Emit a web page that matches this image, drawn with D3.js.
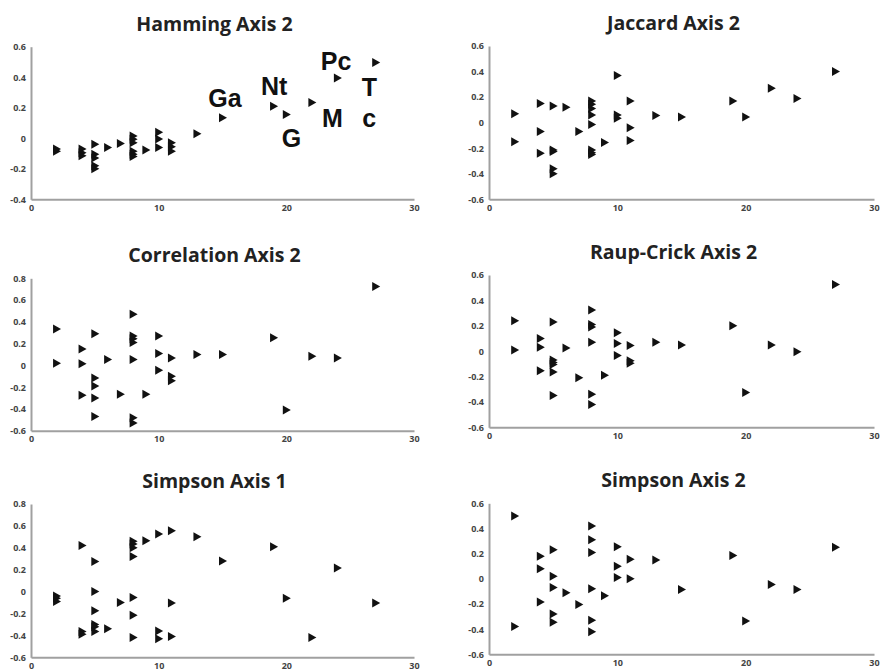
<!DOCTYPE html>
<html>
<head>
<meta charset="utf-8">
<script src="https://cdn.jsdelivr.net/npm/d3@7"></script>
<style>
  body { margin: 0; background: #fff; }
  svg { display: block; }
</style>
</head>
<body>
<div id="graph"></div>
<script>
// point data, [x, y] pairs
var hamming = [[2,-0.07],[2,-0.085],[4,-0.07],[4,-0.095],[4,-0.115],
  [5,-0.04],[5,-0.105],[5,-0.13],[5,-0.18],[5,-0.2],[6,-0.06],[7,-0.035],
  [8,0.015],[8,-0.007],[8,-0.03],[8,-0.085],[8,-0.105],[8,-0.12],[9,-0.077],
  [10,0.04],[10,-0.005],[10,-0.06],[11,-0.03],[11,-0.055],[11,-0.085],
  [13,0.03],[15,0.135],[19,0.21],[20,0.155],[22,0.235],[24,0.395],[27,0.497]];

var jaccard = [[2,0.07],[2,-0.15],[4,0.15],[4,-0.07],[4,-0.24],
  [5,0.13],[5,-0.215],[5,-0.225],[5,-0.36],[5,-0.4],[6,0.12],[7,-0.07],
  [8,0.17],[8,0.145],[8,0.11],[8,0.06],[8,-0.015],[8,-0.215],[8,-0.235],[8,-0.25],
  [9,-0.155],[10,0.37],[10,0.06],[10,0.035],[11,0.17],[11,-0.04],[11,-0.14],
  [13,0.055],[15,0.045],[19,0.17],[20,0.045],[22,0.27],[24,0.19],[27,0.4]];

var correlation = [[2,0.335],[2,0.02],[4,0.15],[4,0.015],[4,-0.275],
  [5,0.29],[5,-0.115],[5,-0.19],[5,-0.3],[5,-0.47],[6,0.055],[7,-0.265],
  [8,0.47],[8,0.27],[8,0.245],[8,0.21],[8,0.055],[8,-0.48],[8,-0.53],[9,-0.265],
  [10,0.27],[10,0.11],[10,-0.045],[11,0.067],[11,-0.1],[11,-0.14],
  [13,0.1],[15,0.1],[19,0.255],[20,-0.41],[22,0.085],[24,0.067],[27,0.725]];

var raupCrick = [[2,0.24],[2,0.01],[4,0.1],[4,0.03],[4,-0.155],
  [5,0.23],[5,-0.07],[5,-0.09],[5,-0.105],[5,-0.165],[5,-0.35],[6,0.025],[7,-0.21],
  [8,0.325],[8,0.21],[8,0.19],[8,0.07],[8,-0.34],[8,-0.42],[9,-0.19],
  [10,0.145],[10,0.06],[10,-0.035],[11,0.045],[11,-0.075],[11,-0.095],
  [13,0.07],[15,0.048],[19,0.2],[20,-0.325],[22,0.048],[24,-0.005],[27,0.525]];

var simpson1 = [[2,-0.04],[2,-0.06],[2,-0.09],[4,0.42],[4,-0.365],[4,-0.39],
  [5,0.275],[5,0],[5,-0.175],[5,-0.3],[5,-0.32],[5,-0.365],[6,-0.34],[7,-0.1],
  [8,0.46],[8,0.435],[8,0.4],[8,0.32],[8,-0.055],[8,-0.215],[8,-0.42],[9,0.465],
  [10,0.525],[10,-0.36],[10,-0.43],[11,0.555],[11,-0.105],[11,-0.41],
  [13,0.5],[15,0.28],[19,0.41],[20,-0.06],[22,-0.42],[24,0.215],[27,-0.105]];

var simpson2 = [[2,0.5],[2,-0.38],[4,0.18],[4,0.08],[4,-0.185],
  [5,0.23],[5,0.02],[5,-0.07],[5,-0.28],[5,-0.345],[6,-0.11],[7,-0.205],
  [8,0.42],[8,0.31],[8,0.21],[8,-0.08],[8,-0.33],[8,-0.42],[9,-0.135],
  [10,0.255],[10,0.1],[10,0.01],[11,0.155],[11,0],
  [13,0.15],[15,-0.085],[19,0.185],[20,-0.335],[22,-0.045],[24,-0.085],[27,0.25]];

// genus labels on the Hamming panel, in data units
var hammingLabels = [["Ga",15.2,0.205],["Nt",19.05,0.283],["Pc",23.9,0.447],
  ["T",26.5,0.277],["M",23.6,0.074],["c",26.5,0.074],["G",20.4,-0.057]];

var xTicks = [0, 10, 20, 30];

var W = 880, H = 672;
var svg = d3.select("#graph").append("svg").attr("width", W).attr("height", H);

// panel boxes in pixels: left/right columns, three rows
var cols = [[31, 414], [489, 874]];
var panels = [
  {title: "Hamming Axis 2",     data: hamming,     col: 0, top: 46.7,  bottom: 199.3, dom: [-0.4, 0.6], labels: hammingLabels},
  {title: "Jaccard Axis 2",     data: jaccard,     col: 1, top: 46,    bottom: 199.3, dom: [-0.6, 0.6]},
  {title: "Correlation Axis 2", data: correlation, col: 0, top: 278.3, bottom: 430.7, dom: [-0.6, 0.8]},
  {title: "Raup-Crick Axis 2",  data: raupCrick,   col: 1, top: 275,   bottom: 427.3, dom: [-0.6, 0.6]},
  {title: "Simpson Axis 1",     data: simpson1,    col: 0, top: 504,   bottom: 657.3, dom: [-0.6, 0.8]},
  {title: "Simpson Axis 2",     data: simpson2,    col: 1, top: 503.3, bottom: 654.3, dom: [-0.6, 0.6]}
];

var tri = "M-3.5,-4.5L4.5,0L-3.5,4.5Z";

panels.forEach(function(p) {
  var x0 = cols[p.col][0], x1 = cols[p.col][1];
  var x = d3.scaleLinear().domain([0, 30]).range([x0, x1]);
  var y = d3.scaleLinear().domain(p.dom).range([p.bottom, p.top]);
  var g = svg.append("g");

  g.append("text")
    .attr("x", (x0 + x1) / 2 - 8)
    .attr("y", p.top - 16)
    .attr("text-anchor", "middle")
    .style("font-family", "'Open Sans', sans-serif")
    .style("font-weight", "bold")
    .style("font-size", "19.5px")
    .style("fill", "#222")
    .text(p.title);

  var yAxis = g.append("g").attr("transform", "translate(" + x0 + ",0)")
    .call(d3.axisLeft(y).tickValues(d3.range(p.dom[0], p.dom[1] + 0.01, 0.2))
      .tickSize(0).tickPadding(5)
      .tickFormat(function(d) { var v = Math.round(d * 10) / 10; return v === 0 ? "0" : d3.format(".1f")(v).replace("−", "-"); }));
  var xAxis = g.append("g").attr("transform", "translate(0," + p.bottom + ")")
    .call(d3.axisBottom(x).tickValues(xTicks).tickSize(0).tickPadding(5));

  [yAxis, xAxis].forEach(function(a) {
    a.select(".domain").attr("stroke", "#a0a0a0").attr("stroke-width", 2);
    a.selectAll("text")
      .style("font-family", "'Open Sans', sans-serif")
      .style("font-weight", "bold")
      .style("font-size", "9px")
      .style("fill", "#444");
  });

  g.selectAll("path.pt")
    .data(p.data)
    .enter()
    .append("path")
    .attr("class", "pt")
    .attr("d", tri)
    .attr("transform", function(d) { return "translate(" + x(d[0]) + "," + y(d[1]) + ")"; })
    .attr("fill", "#111");

  if (p.labels) {
    g.selectAll("text.lab")
      .data(p.labels)
      .enter()
      .append("text")
      .attr("class", "lab")
      .attr("x", function(d) { return x(d[1]); })
      .attr("y", function(d) { return y(d[2]); })
      .attr("text-anchor", "middle")
      .style("font-family", "'Liberation Sans', Arial, sans-serif")
      .style("font-weight", "bold")
      .style("font-size", "25px")
      .style("fill", "#111")
      .text(function(d) { return d[0]; });
  }
});
</script>
</body>
</html>
